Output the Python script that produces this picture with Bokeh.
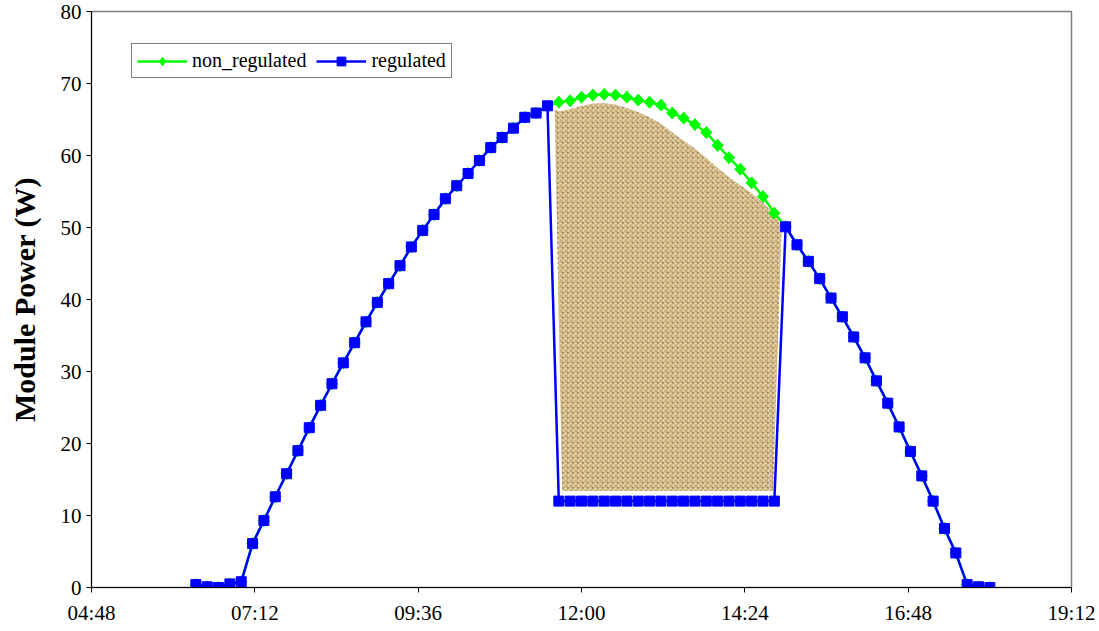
import math
from bokeh.plotting import figure
from bokeh.models import FixedTicker, Legend, LegendItem, ColumnDataSource
from bokeh.embed import file_html
from bokeh.resources import INLINE

# ---------------- data ----------------
times = [
    "06:20", "06:30", "06:40", "06:50", "07:00", "07:10", "07:20", "07:30", "07:40", "07:50",
    "08:00", "08:10", "08:20", "08:30", "08:40", "08:50", "09:00", "09:10", "09:20", "09:30",
    "09:40", "09:50", "10:00", "10:10", "10:20", "10:30", "10:40", "10:50", "11:00", "11:10",
    "11:20", "11:30", "11:40", "11:50", "12:00", "12:10", "12:20", "12:30", "12:40", "12:50",
    "13:00", "13:10", "13:20", "13:30", "13:40", "13:50", "14:00", "14:10", "14:20", "14:30",
    "14:40", "14:50", "15:00", "15:10", "15:20", "15:30", "15:40", "15:50", "16:00", "16:10",
    "16:20", "16:30", "16:40", "16:50", "17:00", "17:10", "17:20", "17:30", "17:40", "17:50",
    "18:00",
]

non_regulated = [
    0.4, 0.1, 0.0, 0.5, 0.8, 6.1, 9.3, 12.6, 15.8, 19.0,
    22.2, 25.3, 28.3, 31.2, 34.0, 36.9, 39.6, 42.2, 44.7, 47.3,
    49.6, 51.8, 54.0, 55.8, 57.5, 59.3, 61.1, 62.5, 63.8, 65.3,
    65.9, 66.9, 67.4, 67.6, 68.1, 68.4, 68.5, 68.4, 68.1, 67.7,
    67.4, 67.0, 65.9, 65.2, 64.3, 63.2, 61.4, 59.7, 58.1, 56.2,
    54.3, 52.0, 50.1, 47.6, 45.3, 42.9, 40.2, 37.6, 34.8, 31.9,
    28.7, 25.6, 22.3, 18.9, 15.5, 12.0, 8.2, 4.8, 0.4, 0.1,
    0.0,
]

regulated = [
    0.4, 0.1, 0.0, 0.5, 0.8, 6.1, 9.3, 12.6, 15.8, 19.0,
    22.2, 25.3, 28.3, 31.2, 34.0, 36.9, 39.6, 42.2, 44.7, 47.3,
    49.6, 51.8, 54.0, 55.8, 57.5, 59.3, 61.1, 62.5, 63.8, 65.3,
    65.9, 66.9, 12.0, 12.0, 12.0, 12.0, 12.0, 12.0, 12.0, 12.0,
    12.0, 12.0, 12.0, 12.0, 12.0, 12.0, 12.0, 12.0, 12.0, 12.0,
    12.0, 12.0, 50.1, 47.6, 45.3, 42.9, 40.2, 37.6, 34.8, 31.9,
    28.7, 25.6, 22.3, 18.9, 15.5, 12.0, 8.2, 4.8, 0.4, 0.1,
    0.0,
]

x_tick_labels = ["04:48", "07:12", "09:36", "12:00", "14:24", "16:48", "19:12"]
y_ticks = [0, 10, 20, 30, 40, 50, 60, 70, 80]
y_label = "Module Power (W)"
series_names = ["non_regulated", "regulated"]


def to_h(s):
    h, m = s.split(":")
    return int(h) + int(m) / 60.0


x = [to_h(t) for t in times]
x_ticks = [to_h(t) for t in x_tick_labels]

SERIF = "Liberation Serif"

p = figure(
    frame_width=980, frame_height=576,
    x_range=(x_ticks[0], x_ticks[-1]), y_range=(y_ticks[0], y_ticks[-1]),
    output_backend="svg", toolbar_location=None,
    min_border_left=91, min_border_right=28, min_border_top=11, min_border_bottom=44,
    background_fill_color="white", border_fill_color="white",
)
p.grid.visible = False
p.outline_line_color = "#808080"
p.outline_line_width = 1.5

# axes
p.xaxis.ticker = FixedTicker(ticks=x_ticks)
p.xaxis.major_label_overrides = {v: lab for v, lab in zip(x_ticks, x_tick_labels)}
p.yaxis.ticker = FixedTicker(ticks=y_ticks)
for ax in (p.xaxis[0], p.yaxis[0]):
    ax.axis_line_color = "black"
    ax.axis_line_width = 1
    ax.major_tick_line_color = "black"
    ax.major_tick_in = 0
    ax.major_tick_out = 5
    ax.minor_tick_line_color = None
    ax.major_label_text_font = SERIF
    ax.major_label_text_font_size = "21px"
    ax.major_label_text_color = "black"
p.xaxis.major_label_standoff = 8
p.yaxis.major_label_standoff = 5
p.yaxis.axis_label = y_label
p.yaxis.axis_label_text_font = SERIF
p.yaxis.axis_label_text_font_style = "bold"
p.yaxis.axis_label_text_font_size = "30px"
p.yaxis.axis_label_text_color = "black"
p.yaxis.axis_label_standoff = 17

# textured region (between the two series where regulated is clipped)
clipped = [i for i in range(len(x)) if regulated[i] < non_regulated[i]]
k0, k1 = clipped[0], clipped[-1] + 1
floor = regulated[k0] + 1.4
tx, ty = [], []
for k in range(k0, k1 + 1):
    u = (k - k0) / (k1 - k0)
    inset = 1.3 * (1 - u) + 2.9 * math.sin(math.pi * u ** 1.6) ** 2
    lo, hi = max(k - 1, 0), min(k + 1, len(x) - 1)
    smooth = (non_regulated[lo] + 2 * non_regulated[k] + non_regulated[hi]) / 4.0
    if k in (k0, k1):
        smooth = non_regulated[k]
    tx.append(x[k])
    ty.append(smooth - inset)
tx[-1] = x[k1] - 0.06
poly_x = [x[k0] - 0.06] + tx + [x[k1 - 1] - 0.02, x[k0] + 0.05]
poly_y = [ty[0] + 0.3] + ty + [floor, floor]
p.patch(poly_x, poly_y, fill_color="#c9ad7b", line_color=None,
        hatch_pattern="+", hatch_color="#f4e4b4", hatch_alpha=0.8,
        hatch_scale=5, hatch_weight=1.5)
p.patch(poly_x, poly_y, fill_color=None, line_color=None,
        hatch_pattern=".", hatch_color="#4e3a20", hatch_alpha=0.4,
        hatch_scale=5, hatch_weight=2)

src = ColumnDataSource(dict(x=x, nr=non_regulated, r=regulated))

GREEN = "#00FF00"
BLUE = "#0000FF"
g_line = p.line("x", "nr", source=src, line_color=GREEN, line_width=2.5)
g_dia = p.scatter("x", "nr", source=src, marker="diamond", size=12,
                  fill_color=GREEN, line_color=GREEN, line_width=1)
p.scatter("x", "nr", source=src, marker="square", size=8, angle=math.pi / 4,
          fill_color=GREEN, line_color=GREEN)
b_line = p.line("x", "r", source=src, line_color=BLUE, line_width=2.5)
b_mark = p.scatter("x", "r", source=src, marker="square", size=10,
                   fill_color=BLUE, line_color=BLUE)

legend = Legend(
    items=[LegendItem(label=series_names[0], renderers=[g_line, g_dia]),
           LegendItem(label=series_names[1], renderers=[b_line, b_mark])],
    orientation="horizontal", location=(40, 509),
    label_text_font=SERIF, label_text_font_size="20px", label_text_color="black",
    glyph_width=50, glyph_height=22, label_height=22, label_standoff=5,
    spacing=10, padding=5, margin=0,
    border_line_color="black", border_line_width=1,
    background_fill_color="white", background_fill_alpha=1,
)
p.add_layout(legend)

open("out.html", "w").write(file_html(p, INLINE))
